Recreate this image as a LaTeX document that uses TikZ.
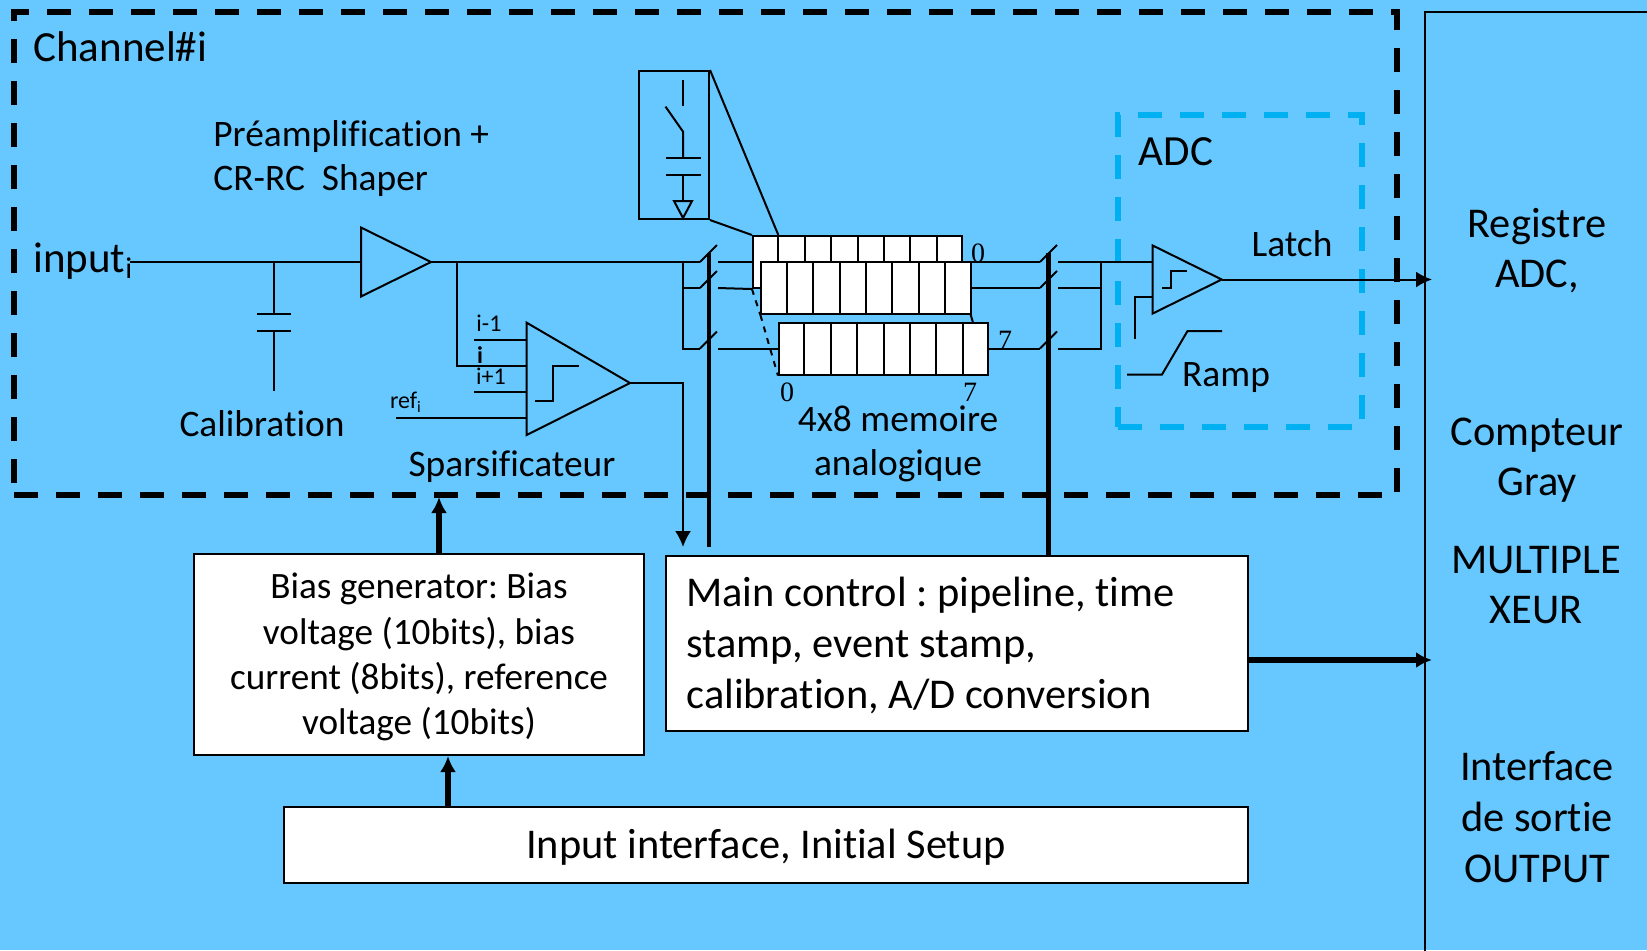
\documentclass[tikz,border=0pt]{standalone}
\usepackage{fontspec}
\setmainfont[Ligatures=NoCommon]{Carlito}
\newfontfamily\digitfont{Liberation Serif}
\usetikzlibrary{arrows.meta,positioning,shapes.geometric,calc}
\definecolor{chipBack}{RGB}{102, 200, 255}
\definecolor{chipBlue}{RGB}{0, 176, 240}
\frenchspacing
\begin{document}
\begin{tikzpicture}[
  x=0.5pt,y=-0.5pt,
  wire/.style={line width=1pt,black},
  busbar/.style={line width=2.4pt,black},
  arrow/.style={-{Latex[length=8pt,width=8pt]},line width=1pt},
  bigarrow/.style={-{Latex[length=8pt,width=8pt]},line width=2.6pt},
  chanbox/.style={draw,line width=3pt,dash pattern=on 12pt off 9pt,minimum width=691.5pt,minimum height=241.5pt,inner sep=0pt},
  adcbox/.style={draw=chipBlue,line width=2.6pt,dash pattern=on 12pt off 9pt,minimum width=122pt,minimum height=156pt,inner sep=0pt},
  whitebox/.style={draw,fill=white,line width=1pt,inner sep=0pt,align=center},
  amp/.style={draw,line width=1pt,isosceles triangle,isosceles triangle stretches,inner sep=0pt,outer sep=0pt,anchor=west},
  memrow/.style={draw,fill=white,line width=1pt,minimum width=104.6pt,minimum height=26pt,inner sep=0pt},
  lab/.style={inner sep=0pt,font=\fontsize{18.7}{22}\selectfont,align=center},
  biglab/.style={inner sep=0pt,font=\fontsize{21.2}{25.3}\selectfont,align=left},
  sidelab/.style={inner sep=0pt,font=\fontsize{21.2}{25}\selectfont,align=center},
  tinylab/.style={inner sep=0pt,font=\fontsize{12}{14}\selectfont},
  digit/.style={inner sep=0pt,font=\digitfont\fontsize{14}{16}\selectfont}
]
  \useasboundingbox[fill=chipBack] (0,0) rectangle (1647,950);
  % frames
  \node[chanbox] (channel) at (705.5,253.5) {};
  \node[adcbox] (adc) at (1240,271) {};
  \node[draw,line width=1pt,minimum width=120pt,minimum height=480pt,anchor=north west,inner sep=0pt] (sortie) at (1424,11) {};
  % lower boxes
  \node[whitebox,minimum width=225pt,minimum height=100.5pt] (bias) at (419,654.5) {};
  \node[lab,font=\fontsize{18.6}{22.6}\selectfont] (biastext) at (419,657) {Bias generator: Bias\\voltage (10bits), bias\\current (8bits), reference\\voltage (10bits)};
  \node[whitebox,minimum width=291pt,minimum height=87.5pt] (main) at (957,643.5) {};
  \node[biglab,anchor=west] (maintext) at (686,645.5) {Main control : pipeline, time\\stamp, event stamp,\\calibration, A/D conversion};
  \node[whitebox,minimum width=482pt,minimum height=38pt] (setup) at (766,845) {};
  \node[lab,font=\fontsize{21.2}{25}\selectfont] (setuptext) at (766,847) {Input interface, Initial Setup};
  % amplifiers
  \node[amp,minimum width=34.5pt,minimum height=35pt] (preamp) at (361,262) {};
  \node[amp,minimum width=34pt,minimum height=34.5pt] (adcamp) at (1152.7,279.5) {};
  % input side
  \node[lab,anchor=west,font=\fontsize{21.5}{24}\selectfont] (input) at (33,261) {input\textsubscript{i}};
  \coordinate (inputend) at (130,262);
  \coordinate (capin) at (274,262);
  \coordinate (plateA) at (274,314);
  \coordinate (plateB) at (274,331);
  \coordinate (capend) at (274,391);
  \draw[wire] (inputend) -- (preamp.west);
  \draw[wire] (capin) -- (plateA);
  \draw[wire] (plateB) -- (capend);
  \draw[wire] ([xshift=-8.5pt]plateA) -- ([xshift=8.5pt]plateA);
  \draw[wire] ([xshift=-8.5pt]plateB) -- ([xshift=8.5pt]plateB);
  % memory lines
  \node[memrow] (rowA) at (857.5,262) {};
  \foreach \i in {1,...,7} {
    \draw[wire] ($(rowA.north west)!\i/8!(rowA.north east)$) -- ++(0,26);
  }
  \foreach \n/\yy in {a/262,b/288,c/348.5} {
    \coordinate (lsw\n) at (700,\yy);
    \coordinate (lout\n) at (718,\yy);
    \coordinate (rsw\n) at (1040,\yy);
    \coordinate (rout\n) at (1058,\yy);
    \draw[wire] (lsw\n) -- ++(17,-17);
    \draw[wire] (rsw\n) -- ++(17,-17);
  }
  \coordinate (busleft) at (683,262);
  \coordinate (busright) at (1101,262);
  \draw[wire] (preamp.apex) -- (lswa);
  \draw[wire] (busleft) |- (lswb);
  \draw[wire] (busleft) |- (lswc);
  \draw[wire] (louta) -- (rowA.west);
  \draw[wire] (loutb) -- (rowA.south west);
  \draw[wire] (rowA.east) -- (rswa);
  \draw[wire] (routa) -- (busright);
  \draw[wire] (routb) -| (busright);
  \draw[wire] (routc) -| (busright);
  % memory
  \draw[wire] (loutc) -- (883.5,348.5);
  \draw[wire] (970.5,314) -- (988,375);
  \node[memrow] (rowB) at (866,288) {};
  \node[memrow] (rowC) at (883.5,348.5) {};
  \draw[wire] (rowB.east) -- (rswb);
  \draw[wire] (rowC.east) -- (rswc);
  \foreach \r in {B,C} {
    \foreach \i in {1,...,7} {
      \draw[wire] ($(row\r.north west)!\i/8!(row\r.north east)$) -- ($(row\r.south west)!\i/8!(row\r.south east)$);
    }
  }
  \draw[wire,dashed] (rowB.south west) -- (rowC.south west);
  \draw[wire,dashed] (rowA.south west) -- (rowB.south west);
  % sample cell
  \node[draw,line width=1pt,minimum width=35pt,minimum height=74pt,inner sep=0pt] (cell) at (674,145) {};
  \coordinate (cellmark) at ($(rowA.north west)!1/8!(rowA.north east)$);
  \draw[wire] (cell.north east) -- (cellmark);
  \draw[wire] (cell.south east) -- (rowA.north west);
  \coordinate (swtop) at (683,80);
  \coordinate (swgap) at (683,106);
  \coordinate (swpivot) at (683,131.6);
  \coordinate (plateC) at (683,158);
  \coordinate (plateD) at (683,175.3);
  \coordinate (gnd) at (683,201);
  \draw[wire] (swtop) -- (swgap);
  \draw[wire] (665.5,106.6) -- (swpivot) -- (plateC);
  \draw[wire] ([xshift=-8.75pt]plateC) -- ([xshift=8.75pt]plateC);
  \draw[wire] ([xshift=-8.75pt]plateD) -- ([xshift=8.75pt]plateD);
  \draw[wire] (plateD) -- (gnd);
  \draw[wire] (674,201) -- (692,201) -- (683,218) -- cycle;
  % sparsifier
  \coordinate (spartop) at (526.7,322.7);
  \coordinate (sparbot) at (526.7,435);
  \coordinate (sparapex) at (630,383);
  \draw[wire] (spartop) -- (sparbot) -- (sparapex) -- cycle;
  \coordinate (tapin) at (457,262);
  \coordinate (inpi) at (526.7,366);
  \draw[wire] (tapin) |- (inpi);
  \draw[wire] (474,340) -- (526.7,340);
  \draw[wire] (474,392) -- (526.7,392);
  \draw[wire] (396,418) -- (526.7,418);
  \draw[wire] (535,400.5) -- (553,400.5) -- (553,366) -- (579,366);
  \coordinate (sparsout) at (683,547);
  \draw[arrow] (sparapex) -| (sparsout);
  % control bars
  \coordinate (barA) at (709,253);
  \coordinate (barB) at (1048.7,253);
  \draw[busbar] (barA) -- (709,547);
  \draw[busbar] (barB) -- (barB |- main.north);
  % adc
  \draw[wire] (busright) -- (1152.7,262);
  \draw[wire] (1152.7,296.7) -- (1135,296.7) -- (1135,339);
  \draw[wire] (1162,288) -- (1171,288) -- (1171,271) -- (1187,271);
  \draw[wire] (1127,374.5) -- (1162,374.5) -- (1187.5,331) -- (1222,331);
  \draw[arrow,shorten >=-4pt] (adcamp.apex) -- (adcamp.apex -| sortie.west);
  % big arrows
  \draw[bigarrow] (439,553.6) -- (439,497);
  \draw[bigarrow] (448,807) -- (448,756);
  \draw[bigarrow,shorten >=-4pt] (main.east |- 0,660) -- (sortie.west |- 0,660);
  % labels
  \node[lab,anchor=west,font=\fontsize{21.5}{24}\selectfont] (chanlabel) at (33,47) {Channel\#i};
  \node[lab,anchor=west,align=left] (preamplabel) at (213,159) {Préamplification +\\CR-RC~ Shaper};
  \node[lab] (callabel) at (262,424) {Calibration};
  \node[lab] (sparslabel) at (512,467) {Sparsificateur};
  \node[lab] (memlabel) at (898,444) {4x8 memoire\\analogique};
  \node[tinylab] (iminus) at (489,323) {i-1};
  \node[tinylab,font=\bfseries\fontsize{12}{14}\selectfont] (imid) at (480,355) {i};
  \node[tinylab] (iplus) at (491,376) {i+1};
  \node[tinylab] (reflabel) at (406,402) {ref\textsubscript{i}};
  \node[digit] (d0a) at (978,253) {0};
  \node[digit] (d7a) at (1005,340) {7};
  \node[digit] (d0b) at (787,392) {0};
  \node[digit] (d7b) at (970,392) {7};
  \node[lab,font=\fontsize{21.5}{24}\selectfont] (adclabel) at (1176,152) {ADC};
  \node[lab] (latchlabel) at (1292,244) {Latch};
  \node[lab] (ramplabel) at (1226,377) {Ramp};
  \node[sidelab] (regs) at (1537,251) {Registre\\ADC,};
  \node[sidelab] (gray) at (1537,460) {Compteur\\Gray};
  \node[sidelab] (mux) at (1536,585.5) {MULTIPLE\\XEUR};
  \node[sidelab,font=\fontsize{21.2}{25.3}\selectfont] (iface) at (1537,817) {Interface\\de sortie\\OUTPUT};
\end{tikzpicture}
\end{document}
